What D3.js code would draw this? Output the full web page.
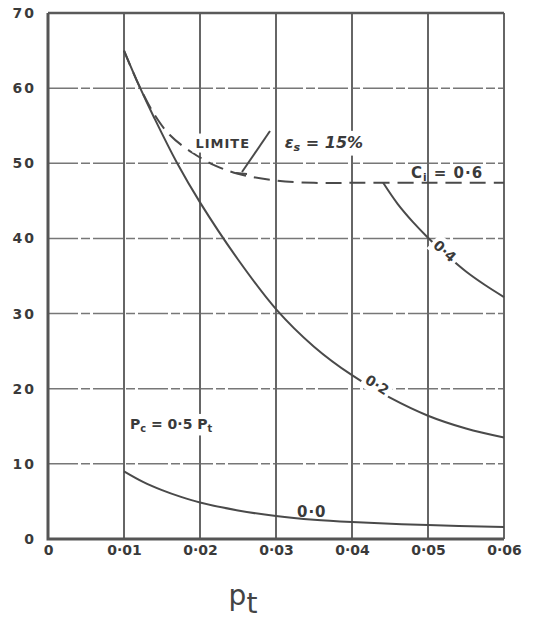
<!DOCTYPE html>
<meta charset="utf-8">
<style>
body { margin: 0; background: #fff; }
text { font-family: "DejaVu Sans", sans-serif; fill: #3a3a3a; }
.tick text { font-weight: bold; font-size: 14px; }
.grid-h { stroke: #777; stroke-width: 1.5; stroke-dasharray: 30,3,9,3; fill: none; }
.grid-v { stroke: #666; stroke-width: 2; }
.frame { stroke: #555; stroke-width: 3; fill: none; }
.curve { stroke: #4a4a4a; stroke-width: 2; fill: none; }
.limit { stroke: #4a4a4a; stroke-width: 2; fill: none; stroke-dasharray: 16,8; }
</style>
<body>
<script src="https://cdn.jsdelivr.net/npm/d3@7"></script>
<script>

var width = 536, height = 628;

// ticks
var xTicks = [0, 0.01, 0.02, 0.03, 0.04, 0.05, 0.06];
var xTickLabels = ["0", "0·01", "0·02", "0·03", "0·04", "0·05", "0·06"];
var yTicks = [0, 10, 20, 30, 40, 50, 60, 70];

// curves (pt, value)
var pt00 = [0.01, 0.0125, 0.015, 0.0175, 0.02, 0.025, 0.03, 0.035, 0.04, 0.05, 0.06];
var v00  = [9, 7.6, 6.5, 5.6, 4.85, 3.8, 3.05, 2.55, 2.25, 1.85, 1.6];

var pt02 = [0.01, 0.012, 0.014, 0.017, 0.02, 0.025, 0.03, 0.035, 0.04, 0.045, 0.05, 0.055, 0.06];
var v02  = [65, 60.3, 56, 50, 44.8, 37.2, 30.6, 25.6, 21.8, 18.8, 16.4, 14.7, 13.5];

var pt04 = [0.0441, 0.046, 0.048, 0.05, 0.052, 0.055, 0.0575, 0.06];
var v04  = [47.4, 44.6, 42.2, 40.1, 38.2, 35.6, 33.8, 32.2];

var ptLim = [0.01, 0.012, 0.014, 0.016, 0.019, 0.022, 0.025, 0.03, 0.035, 0.04, 0.05, 0.06];
var vLim  = [65, 60.3, 56.5, 53.8, 51.4, 49.7, 48.6, 47.7, 47.4, 47.4, 47.4, 47.4];

var x = d3.scaleLinear().domain([0, 0.06]).range([48, 504]);
var y = d3.scaleLinear().domain([0, 70]).range([539, 13]);

var svg = d3.select("body").append("svg")
    .attr("width", width)
    .attr("height", height);

// grid
svg.selectAll(".grid-h")
  .data(yTicks.filter(function(d){ return d > 0 && d < 70; }))
  .enter().append("line")
  .attr("class", "grid-h")
  .attr("x1", x(0)).attr("x2", x(0.06))
  .attr("y1", function(d){ return y(d); })
  .attr("y2", function(d){ return y(d); });

svg.selectAll(".grid-v")
  .data(xTicks.filter(function(d){ return d > 0; }))
  .enter().append("line")
  .attr("class", "grid-v")
  .attr("x1", function(d){ return x(d); })
  .attr("x2", function(d){ return x(d); })
  .attr("y1", y(70)).attr("y2", y(0));

// top border
svg.append("line")
  .attr("x1", x(0)).attr("x2", x(0.06))
  .attr("y1", y(70)).attr("y2", y(70))
  .attr("stroke", "#5a5a5a").attr("stroke-width", 2.5);

// curves
var line = d3.line()
  .x(function(d){ return x(d[0]); })
  .y(function(d){ return y(d[1]); })
  .curve(d3.curveCatmullRom.alpha(0.5));

function pairs(a, b){ return a.map(function(v, i){ return [v, b[i]]; }); }

svg.append("path").attr("class", "limit").attr("d", line(pairs(ptLim, vLim)));
svg.append("path").attr("class", "curve").attr("d", line(pairs(pt00, v00)));
svg.append("path").attr("class", "curve").attr("d", line(pairs(pt02, v02)));
svg.append("path").attr("class", "curve").attr("d", line(pairs(pt04, v04)));

// labels with white backing to break the grid like the original
function label(px, py, txt, size, opts){
  opts = opts || {};
  var g = svg.append("g")
    .attr("transform", "translate(" + x(px) + "," + y(py) + ")" + (opts.rotate ? " rotate(" + opts.rotate + ")" : ""));
  var t = g.append("text")
    .attr("text-anchor", "middle")
    .attr("dy", "0.35em")
    .style("font-size", size + "px")
    .style("font-weight", "bold")
    .style("font-style", opts.italic ? "italic" : "normal")
    .style("letter-spacing", (opts.ls || 0) + "px");
  txt.forEach(function(p){
    var s = t.append("tspan").text(p.t);
    if (p.sub) s.attr("baseline-shift", "-25%").style("font-size", (size * 0.7) + "px");
  });
  if (opts.bg) {
    var bb = t.node().getBBox();
    g.insert("rect", "text")
      .attr("x", bb.x - 3).attr("y", bb.y - 2)
      .attr("width", bb.width + 6).attr("height", bb.height + 4)
      .attr("fill", "#fff");
  }
  return g;
}

label(0.0230, 52.7, [{t: "LIMITE"}], 13, {ls: 1, bg: true});
label(0.0363, 52.8, [{t: "ε"}, {t: "s", sub: true}, {t: " = 15%"}], 16, {italic: true, bg: true});
label(0.0525, 48.7, [{t: "C"}, {t: "i", sub: true}, {t: " = 0·6"}], 15, {ls: 1});
label(0.0522, 38.3, [{t: "0·4"}], 14, {rotate: 42, bg: true});
label(0.0433, 20.5, [{t: "0·2"}], 14, {rotate: 32, bg: true});
label(0.0347, 3.6, [{t: "0·0"}], 15, {ls: 1});
label(0.0162, 15.3, [{t: "P"}, {t: "c", sub: true}, {t: " = 0·5 P"}, {t: "t", sub: true}], 14, {bg: true});

// leader from epsilon to limit curve
svg.append("line")
  .attr("x1", 270).attr("y1", 131).attr("x2", 242).attr("y2", 172)
  .attr("stroke", "#4a4a4a").attr("stroke-width", 2);
svg.append("line")
  .attr("x1", 236).attr("y1", 173).attr("x2", 247).attr("y2", 174)
  .attr("stroke", "#4a4a4a").attr("stroke-width", 2);

// axes
var yAxis = d3.axisLeft(y).tickValues(yTicks).tickSize(0).tickPadding(12);
var gy = svg.append("g").attr("transform", "translate(" + x(0) + ",0)").call(yAxis);
gy.select(".domain").remove();
gy.selectAll("text").style("letter-spacing", "2px");

var xAxis = d3.axisBottom(x).tickValues(xTicks).tickSize(0).tickPadding(6)
  .tickFormat(function(d, i){ return xTickLabels[i]; });
var gx = svg.append("g").attr("transform", "translate(0," + y(0) + ")").call(xAxis);
gx.select(".domain").remove();

// frame: left and bottom axes
svg.append("path").attr("class", "frame")
  .attr("d", "M" + x(0) + "," + y(70) + "V" + y(0) + "H" + x(0.06));

// axis title
var title = svg.append("text")
  .attr("x", 243).attr("y", 605)
  .attr("text-anchor", "middle")
  .style("font-size", "28px")
  .style("fill", "#444");
title.append("tspan").text("p");
title.append("tspan").text("t").attr("baseline-shift", "-30%");

</script>
